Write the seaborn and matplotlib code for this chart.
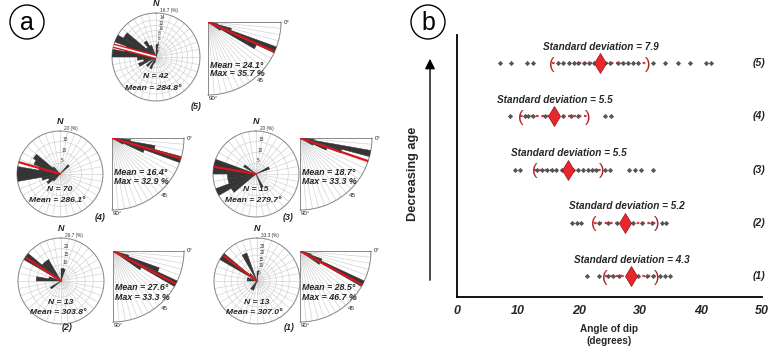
import numpy as np
import pandas as pd
import matplotlib
matplotlib.use("Agg")
import matplotlib.pyplot as plt
import seaborn as sns
from matplotlib.patches import Ellipse, FancyArrowPatch

# ---------------- Panel (b) data: angle of dip per group ----------------
dips_1 = [21.3, 23.2, 24.8, 25.6, 26.6, 29.7, 31.1, 32.2, 33.3, 34.1, 34.9]
dips_2 = [18.8, 19.6, 20.4, 23.2, 24.8, 26.2, 28.9, 30.3, 31.9, 33.6, 34.3]
dips_3 = [9.5, 10.3, 13.1, 13.9, 14.7, 15.5, 16.3, 17.2, 19.0, 19.8, 20.6,
          21.4, 22.2, 22.8, 24.2, 25.1, 28.2, 29.1, 30.1, 32.1]
dips_4 = [8.7, 11.1, 11.7, 12.4, 14.4, 17.4, 18.7, 19.9, 24.3, 25.2]
dips_5 = [7.0, 8.8, 11.5, 12.5, 16.6, 17.4, 18.3, 19.1, 19.9, 20.8, 21.6, 22.4,
          24.3, 25.1, 26.4, 27.2, 28.0, 28.9, 29.7, 32.2, 34.1, 36.3, 38.2,
          40.9, 41.7]
group_labels = ["(1)", "(2)", "(3)", "(4)", "(5)"]
group_means = [28.5, 27.6, 18.2, 15.9, 23.4]
group_sds = [4.3, 5.2, 5.5, 5.5, 7.9]
x_ticks = [0, 10, 20, 30, 40, 50]

# ---------------- Panel (a) data: rose diagrams ----------------
rose_n = [13, 13, 15, 70, 42]
rose_mean_dir = [307.0, 303.8, 279.7, 286.1, 284.8]
rose_max = [33.3, 26.7, 20.0, 20.0, 16.7]
dip_mean = [28.5, 27.6, 18.7, 16.4, 24.1]
dip_max = [46.7, 33.3, 33.3, 32.9, 35.7]

dir1_deg = [5, 205, 215, 275, 285, 305, 315, 335]
dir1_pct = [7.7, 7.7, 7.7, 7.7, 7.7, 33.3, 7.7, 23.1]
dir2_deg = [5, 15, 235, 275, 285, 305, 315, 325]
dir2_pct = [7.7, 7.7, 7.7, 15.4, 7.7, 26.7, 15.4, 15.4]
dir3_deg = [65, 155, 235, 245, 255, 265, 275, 285, 305]
dir3_pct = [6.7, 6.7, 13.3, 20.0, 13.3, 13.3, 20.0, 20.0, 6.7]
dir4_deg = [45, 225, 235, 245, 255, 265, 275, 285, 295, 305, 315]
dir4_pct = [5.7, 4.3, 7.1, 5.7, 8.6, 20.0, 20.0, 10.0, 12.9, 14.3, 4.3]
dir5_deg = [5, 15, 195, 205, 225, 245, 255, 265, 275, 285, 295, 305, 315, 325, 335]
dir5_pct = [4.8, 2.4, 2.4, 4.8, 4.8, 7.1, 4.8, 7.1, 16.7, 11.9, 16.7, 14.3, 4.8, 7.1, 4.8]

dipbin1_deg = [17.5, 22.5, 27.5, 32.5]
dipbin1_pct = [7.7, 15.4, 46.7, 15.4]
dipbin2_deg = [17.5, 22.5, 27.5, 32.5]
dipbin2_pct = [7.7, 23.1, 33.3, 15.4]
dipbin3_deg = [7.5, 12.5, 17.5, 22.5, 27.5]
dipbin3_pct = [6.7, 33.3, 20.0, 13.3, 6.7]
dipbin4_deg = [7.5, 12.5, 17.5, 22.5, 27.5]
dipbin4_pct = [8.6, 20.0, 32.9, 15.7, 5.7]
dipbin5_deg = [12.5, 17.5, 22.5, 27.5, 32.5]
dipbin5_pct = [4.8, 11.9, 35.7, 26.2, 7.1]

rose_dirs = [(dir1_deg, dir1_pct), (dir2_deg, dir2_pct), (dir3_deg, dir3_pct),
             (dir4_deg, dir4_pct), (dir5_deg, dir5_pct)]
rose_dips = [(dipbin1_deg, dipbin1_pct), (dipbin2_deg, dipbin2_pct),
             (dipbin3_deg, dipbin3_pct), (dipbin4_deg, dipbin4_pct),
             (dipbin5_deg, dipbin5_pct)]

# ---------------- figure ----------------
sns.set_theme(style="white")
plt.rcParams["font.family"] = ["Liberation Sans", "DejaVu Sans"]
W, H = 784, 350
fig = plt.figure(figsize=(W / 100, H / 100), dpi=100)
fig.patch.set_facecolor("white")


def fx(x):
    return x / W


def fy(y):
    return 1 - y / H


def ftext(x, y, s, **kw):
    fig.text(fx(x), fy(y), s, **kw)


DARK = "#353535"
RED = "#d8161c"
GRID = "#cfcfcf"
BI = dict(fontweight="bold", fontstyle="italic")

# layout of each group in pixels (circle centre, radius, fan apex, fan radius, label)
layout = [
    dict(c=(257, 281), r=43, f=(300, 251), R=71, lab=(289, 328), ty=(21, 31), fty=(37, 46)),
    dict(c=(61, 281), r=43, f=(113, 251), R=71, lab=(67, 328), ty=(21, 31), fty=(37, 46)),
    dict(c=(256, 174), r=43, f=(300, 138), R=72, lab=(288, 218), ty=(16, 26), fty=(35, 44)),
    dict(c=(60, 174), r=43, f=(112, 138), R=72, lab=(100, 218), ty=(16, 26), fty=(35, 44)),
    dict(c=(156, 57), r=44, f=(208, 22), R=73, lab=(196, 106), ty=(20, 31), fty=(44, 52)),
]
ring_steps = [5, 5, 5, 5, 2]

for i in range(5):
    L = layout[i]
    cx, cy = L["c"]
    r = L["r"]
    ax = fig.add_axes([fx(cx - r), fy(cy + r), 2 * r / W, 2 * r / H], projection="polar")
    ax.set_theta_zero_location("N")
    ax.set_theta_direction(-1)
    d, p = rose_dirs[i]
    ax.bar(np.deg2rad(d), p, width=np.deg2rad(10), color=DARK, edgecolor=DARK,
           linewidth=0.3, zorder=3)
    rmax = rose_max[i]
    ax.set_ylim(0, rmax)
    step = ring_steps[i]
    inner = [t for t in np.arange(step, rmax, step) if t < rmax - 0.12 * rmax]
    ticks = inner + [rmax]
    labels = [f"{t:g}" for t in inner] + [f"{rmax:g} (%)"]
    ax.set_rgrids(ticks, labels=labels, angle=5, fontsize=3.4, color="#333333")
    ax.set_thetagrids(np.arange(0, 360, 10), labels=[])
    ax.grid(color=GRID, linewidth=0.45)
    ax.spines["polar"].set_color("#8a8a8a")
    ax.spines["polar"].set_linewidth(0.7)
    ax.set_facecolor("white")
    th = np.deg2rad(rose_mean_dir[i])
    if i == 4:
        ax.plot([th, th], [0, rmax], color=RED, lw=3.2, zorder=4, solid_capstyle="butt")
        ax.plot([th, th], [0, rmax], color="white", lw=1.2, zorder=5, solid_capstyle="butt")
    else:
        ax.plot([th, th], [0, rmax], color=RED, lw=1.6, zorder=4)
    ftext(cx, cy - r - 5, "N", fontsize=6.5, ha="center", va="bottom", **BI)
    ftext(cx, cy + L["ty"][0], f"N = {rose_n[i]}", fontsize=6.1, ha="center",
          va="center", **BI)
    ftext(cx - 3, cy + L["ty"][1], f"Mean = {rose_mean_dir[i]:.1f}°", fontsize=6.1,
          ha="center", va="center", **BI)

    # dip fan
    ax0, ay0 = L["f"]
    R = L["R"]
    fa = fig.add_axes([fx(ax0), fy(ay0 + R), R / W, R / H], projection="polar")
    fa.set_theta_zero_location("E")
    fa.set_theta_direction(-1)
    fa.set_thetamin(0)
    fa.set_thetamax(90)
    dd, dp = rose_dips[i]
    fa.bar(np.deg2rad(dd), dp, width=np.deg2rad(5), color=DARK, edgecolor=DARK,
           linewidth=0.3, zorder=3)
    fa.set_ylim(0, dip_max[i])
    fa.set_rgrids([dip_max[i] * 0.999], labels=[""])
    fa.set_thetagrids(np.arange(0, 91, 5), labels=[])
    fa.grid(color=GRID, linewidth=0.45)
    for s in fa.spines.values():
        s.set_color("#8a8a8a")
        s.set_linewidth(0.7)
    tm = np.deg2rad(dip_mean[i])
    fa.plot([tm, tm], [0, dip_max[i]], color=RED, lw=1.6, zorder=4)
    ftext(ax0 + R + 3, ay0, "0°", fontsize=4.5, ha="left", va="center")
    ftext(ax0 + 1, ay0 + R + 1, "90°", fontsize=4.5, ha="left", va="top")
    ftext(ax0 + 0.707 * R + 1, ay0 + 0.707 * R + 7, "45", fontsize=4.5, ha="center",
          va="center")
    ftext(ax0 + 2, ay0 + L["fty"][0], f"Mean = {dip_mean[i]:.1f}°", fontsize=6.4,
          ha="left", va="center", **BI)
    ftext(ax0 + 2, ay0 + L["fty"][1], f"Max = {dip_max[i]:.1f} %", fontsize=6.4,
          ha="left", va="center", **BI)
    ftext(L["lab"][0], L["lab"][1], group_labels[i], fontsize=6.4, ha="center",
          va="center", **BI)

# circled panel letters
for (x, y, s) in [(27, 22, "a"), (428, 22, "b")]:
    fig.patches.append(Ellipse((fx(x), fy(y)), 34 / W, 34 / H, transform=fig.transFigure,
                               fill=False, edgecolor="black", linewidth=1.0))
    ftext(x, y + 1, s, fontsize=18, ha="center", va="center", color="black")

# ---------------- Panel (b) ----------------
axb = fig.add_axes([fx(457), fy(297), 305 / W, 262 / H])
all_dips = [dips_1, dips_2, dips_3, dips_4, dips_5]
rows = []
for k, vals in enumerate(all_dips):
    for v in vals:
        rows.append(dict(dip=v, row=k + 1))
df = pd.DataFrame(rows)

for k in range(5):
    m, s = group_means[k], group_sds[k]
    yk = k + 1
    axb.plot([m - s, m + s], [yk, yk], color="#e8343c", lw=1.6, ls=(0, (1.2, 1.2)),
             zorder=2)

sns.scatterplot(data=df, x="dip", y="row", marker="D", s=7, color="#555555",
                edgecolor="#555555", linewidth=0, ax=axb, zorder=3, legend=False)

for k in range(5):
    m, s = group_means[k], group_sds[k]
    yk = k + 1
    axb.plot([m], [yk], marker="d", markersize=10, color="#e8262e",
             markeredgecolor="#9a1010", markeredgewidth=0.5, zorder=5)
    axb.text(m - s, yk - 0.02, "(", color="#a3282a", fontsize=12, ha="center",
             va="center", zorder=4)
    axb.text(m + s, yk - 0.02, ")", color="#a3282a", fontsize=12, ha="center",
             va="center", zorder=4)
    axb.text(m + 0.2, yk + 0.31, f"Standard deviation = {s}", fontsize=7.2,
             ha="center", va="center", **BI)
    axb.text(49.5, yk, group_labels[k], fontsize=7.5, ha="center", va="center", **BI)

axb.set_xlim(0, 50)
axb.set_ylim(0.606, 5.526)
axb.set_xticks(x_ticks)
axb.set_xticklabels([str(t) for t in x_ticks], fontsize=9, **BI)
axb.set_yticks([])
axb.set_xlabel("Angle of dip\n(degrees)", fontsize=7.2, fontweight="bold", labelpad=5,
               linespacing=1.2)
axb.set_ylabel("")
for side in ["top", "right"]:
    axb.spines[side].set_visible(False)
for side in ["left", "bottom"]:
    axb.spines[side].set_color("black")
    axb.spines[side].set_linewidth(1.3)
axb.tick_params(axis="x", direction="out", length=4, width=1.2, color="black", pad=2)
axb.set_facecolor("white")

# decreasing age arrow
fig.add_artist(FancyArrowPatch(
    (fx(430), fy(283)), (fx(430), fy(56)), transform=fig.transFigure,
    arrowstyle="-|>,head_length=6,head_width=3", color="black", lw=1.0))
ftext(413, 174, "Decreasing age", fontsize=9.2, fontweight="bold", rotation=90,
      ha="center", va="center")

fig.savefig("out.png", dpi=100, facecolor="white")
